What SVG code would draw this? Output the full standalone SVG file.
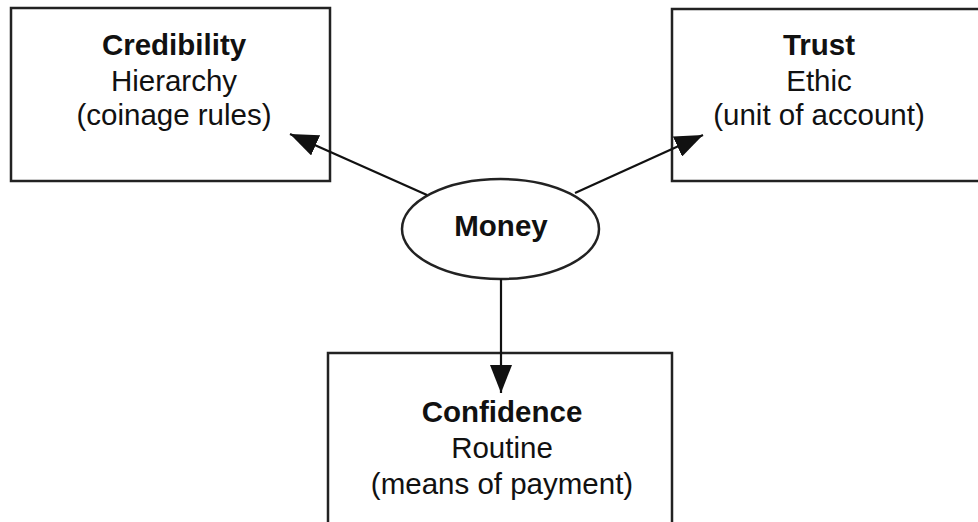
<svg xmlns="http://www.w3.org/2000/svg" width="978" height="522" viewBox="0 0 978 522">
<defs>
<style>
.box{fill:#fff;stroke:#222;stroke-width:2.5}
.t{font-family:"Liberation Sans",Arial,sans-serif;font-size:29.5px;fill:#111;text-anchor:middle}
.b{font-weight:bold}
.c{stroke:#111;stroke-width:2.2;fill:none}
</style>
<marker id="ah" viewBox="0 0 28 22" refX="28" refY="11" markerWidth="28" markerHeight="22" markerUnits="userSpaceOnUse" orient="auto">
<path d="M0,0 L28,11 L0,22 Z" fill="#111"/>
</marker>
</defs>
<rect width="978" height="522" fill="#fff"/>
<g id="credibility">
<rect class="box" x="11" y="8" width="319" height="173"/>
<text class="t b" x="174" y="55">Credibility</text>
<text class="t" x="174" y="91">Hierarchy</text>
<text class="t" x="174" y="125">(coinage rules)</text>
</g>
<g id="trust">
<rect class="box" x="672" y="9" width="310" height="172"/>
<text class="t b" x="819" y="55">Trust</text>
<text class="t" x="819" y="91">Ethic</text>
<text class="t" x="819" y="125">(unit of account)</text>
</g>
<g id="confidence">
<rect class="box" x="328" y="353" width="344" height="180"/>
<text class="t b" x="502" y="422">Confidence</text>
<text class="t" x="502" y="458">Routine</text>
<text class="t" x="502" y="494">(means of payment)</text>
</g>
<g id="money">
<ellipse class="box" cx="500.5" cy="229" rx="98.5" ry="50"/>
<text class="t b" x="501" y="236">Money</text>
</g>
<g id="connectors">
<line class="c" x1="427" y1="195" x2="290" y2="134" marker-end="url(#ah)"/>
<line class="c" x1="575" y1="193" x2="703" y2="135" marker-end="url(#ah)"/>
<line class="c" x1="501" y1="279" x2="501" y2="393" marker-end="url(#ah)"/>
</g>
</svg>
